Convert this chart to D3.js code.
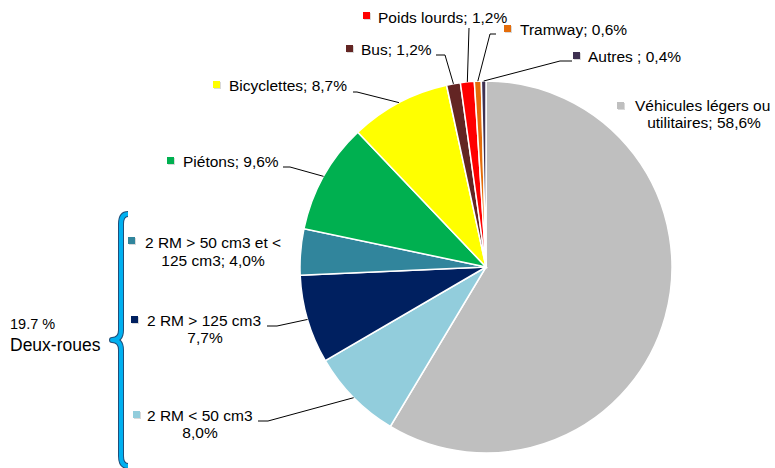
<!DOCTYPE html>
<html>
<head>
<meta charset="utf-8">
<script src="https://cdn.jsdelivr.net/npm/d3@7"></script>
<style>
  body { margin: 0; background: #fff; }
  text { font-family: "Liberation Sans", Arial, sans-serif; fill: #000; white-space: pre; }
</style>
</head>
<body>
<div id="chart"></div>
<script>
// slices, clockwise from 12 o'clock
const categories = ["Véhicules légers ou utilitaires", "2 RM < 50 cm3", "2 RM > 125 cm3",
  "2 RM > 50 cm3 et < 125 cm3", "Piétons", "Bicyclettes", "Bus", "Poids lourds", "Tramway", "Autres"];
const values = [58.6, 8.0, 7.7, 4.0, 9.6, 8.7, 1.2, 1.2, 0.6, 0.4];
const colors = ["#bfbfbf", "#92cddc", "#002060", "#31859c", "#00b050", "#ffff00",
  "#632523", "#ff0000", "#e46c0a", "#3f3151"];
// label text, %v is replaced by the value
const labelLines = [
  ["Véhicules légers ou", "utilitaires; %v%"],
  ["2 RM < 50 cm3", "%v%"],
  ["2 RM > 125 cm3", "%v%"],
  ["2 RM > 50 cm3 et <", "125 cm3; %v%"],
  ["Piétons; %v%"],
  ["Bicyclettes; %v%"],
  ["Bus; %v%"],
  ["Poids lourds; %v%"],
  ["Tramway; %v%"],
  ["Autres ; %v%"]
];
const groupTotal = "19.7 %";
const groupName = "Deux-roues";

const width = 775, height = 468;
const cx = 486, cy = 267, radius = 186;

// where each label sits: key square, text lines [x, y, anchor], leader elbow points
const layout = [
  {sq: [617, 102], lines: [[635, 111, "start"], [704, 128, "middle"]], leader: null},
  {sq: [133, 411], lines: [[147, 421, "start"], [200, 438, "middle"]], leader: [[268, 421], [258, 421]]},
  {sq: [131, 316], lines: [[147, 326, "start"], [205, 343, "middle"]], leader: [[277, 326], [267, 326]]},
  {sq: [128, 237], lines: [[145, 248, "start"], [213, 266, "middle"]], leader: null},
  {sq: [167, 157], lines: [[183, 167, "start"]], leader: [[290, 167], [283, 167]]},
  {sq: [213, 81], lines: [[229, 91, "start"]], leader: [[357, 92], [353, 92]]},
  {sq: [346, 45], lines: [[361, 55, "start"]], leader: [[445, 55], [436, 55]]},
  {sq: [363, 12], lines: [[378, 23, "start"]], leader: [[469, 28]]},
  {sq: [504, 25], lines: [[520, 35, "start"]], leader: [[490, 34], [496, 34]]},
  {sq: [573, 52], lines: [[588, 62, "start"]], leader: [[560, 61], [572, 61]]}
];

const fmt = v => d3.format(".1f")(v).replace(".", ",");

const svg = d3.select("#chart").append("svg")
  .attr("width", width)
  .attr("height", height);

const pie = d3.pie().sort(null).value(d => d);
const arcs = pie(values);
const arc = d3.arc().innerRadius(0).outerRadius(radius);
const edgeArc = d3.arc().innerRadius(radius).outerRadius(radius);

const g = svg.append("g").attr("transform", `translate(${cx},${cy})`);
g.selectAll("path.slice").data(arcs).enter().append("path")
  .attr("class", "slice")
  .attr("d", arc)
  .attr("fill", (d, i) => colors[i])
  .attr("stroke", "#fff")
  .attr("stroke-width", 1.5);

// leader lines
const line = d3.line();
arcs.forEach((d, i) => {
  const L = layout[i];
  if (!L.leader) return;
  const c = edgeArc.centroid(d);
  const pts = [[cx + c[0], cy + c[1]]].concat(L.leader);
  svg.append("path")
    .attr("d", line(pts))
    .attr("fill", "none")
    .attr("stroke", "#000")
    .attr("stroke-width", 1);
});

// labels
const labels = svg.append("g");
values.forEach((v, i) => {
  const L = layout[i];
  labels.append("rect")
    .attr("x", L.sq[0] + 1).attr("y", L.sq[1] + 1)
    .attr("width", 7).attr("height", 7)
    .attr("fill", "#d9d9d9");
  labels.append("rect")
    .attr("x", L.sq[0]).attr("y", L.sq[1])
    .attr("width", 7).attr("height", 7)
    .attr("fill", colors[i]);
  labelLines[i].forEach((s, k) => {
    labels.append("text")
      .attr("x", L.lines[k][0])
      .attr("y", L.lines[k][1])
      .attr("text-anchor", L.lines[k][2])
      .style("font-size", "15.5px")
      .text(s.replace("%v", fmt(v)));
  });
});

// brace around the two-wheeler labels
const brace = "M128,214 Q121,214 121,224 L121,330 Q121,340 112,340 Q121,340 121,350 L121,456 Q121,466 128,466";
svg.append("path").attr("d", brace).attr("fill", "none")
  .attr("stroke", "#1f4e79").attr("stroke-width", 6).attr("stroke-linejoin", "round");
svg.append("path").attr("d", brace).attr("fill", "none")
  .attr("stroke", "#00b0f0").attr("stroke-width", 4).attr("stroke-linejoin", "round");

svg.append("text").attr("x", 10).attr("y", 329)
  .style("font-size", "14.5px").text(groupTotal);
svg.append("text").attr("x", 10).attr("y", 351)
  .style("font-size", "17.5px").text(groupName);
</script>
</body>
</html>
